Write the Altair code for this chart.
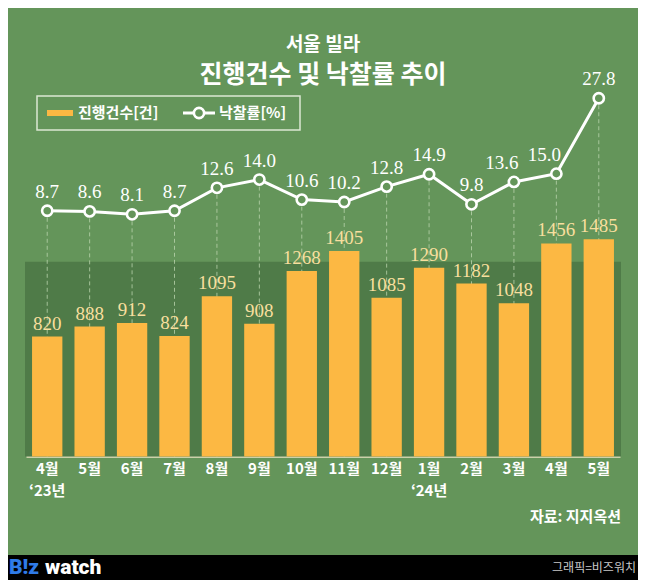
import altair as alt
import pandas as pd

# ---- data ----
months = ["4월", "5월", "6월", "7월", "8월", "9월", "10월", "11월", "12월", "1월", "2월", "3월", "4월", "5월"]
years = ["‘23년", "", "", "", "", "", "", "", "", "‘24년", "", "", "", ""]
counts = [820, 888, 912, 824, 1095, 908, 1268, 1405, 1085, 1290, 1182, 1048, 1456, 1485]
rates = [8.7, 8.6, 8.1, 8.7, 12.6, 14.0, 10.6, 10.2, 12.8, 14.9, 9.8, 13.6, 15.0, 27.8]

keys = [f"{i:02d}|{m}|{y}" for i, (m, y) in enumerate(zip(months, years))]
df = pd.DataFrame({"key": keys, "count": counts, "rate": rates})

BG = "#64955a"
BAND = "#4f7b48"
BAR = "#fcb843"
BAR_LABEL = "#f8df9e"
KFONT = "Noto Sans CJK KR"
SERIF = "Liberation Serif"

W, H = 594, 366.5
BAR_DOMAIN = [0, 2505]
RATE_DOMAIN = [-33.0, 29.2]

one = pd.DataFrame({"a": [0]})

x_enc = alt.X(
    "key:N", sort=None,
    scale=alt.Scale(paddingInner=0.285, paddingOuter=0.1425),
    axis=alt.Axis(
        title=None, ticks=False, grid=False,
        domain=True, domainColor="#efe6c6", domainWidth=1.5,
        labelExpr="slice(split(datum.value, '|'), 1)",
        labelAngle=0, labelColor="white", labelFont=KFONT, labelFontSize=15,
        labelFontWeight="bold", labelPadding=5, labelLineHeight=22,
        labelBaseline="top",
    ),
)
y_bar = alt.Y("count:Q", scale=alt.Scale(domain=BAR_DOMAIN, nice=False, zero=False), axis=None)
y_rate = alt.Y("rate:Q", scale=alt.Scale(domain=RATE_DOMAIN, nice=False, zero=False), axis=None)

base = alt.Chart(df)

band = alt.Chart(one).mark_rect(color=BAND).encode(
    x=alt.value(-1), x2=alt.value(W + 1), y=alt.value(171.7), y2=alt.value(H)
)

drops = base.mark_rule(color="#b9d3ad", strokeDash=[4, 3], strokeWidth=1, opacity=0.8).encode(
    x=x_enc, y=y_rate, y2=alt.value(H)
)

bars = base.mark_bar(color=BAR).encode(x=x_enc, y=y_bar)

bar_labels = base.mark_text(
    font=SERIF, fontSize=19, color=BAR_LABEL, baseline="alphabetic", dy=-7
).encode(x=x_enc, y=y_bar, text=alt.Text("count:Q", format="d"))

line = base.mark_line(color="white", strokeWidth=3).encode(x=x_enc, y=y_rate)

points = base.mark_point(
    shape="circle", filled=True, fill=BG, stroke="white", strokeWidth=2.6, size=105, opacity=1
).encode(x=x_enc, y=y_rate)

shifted = [keys[11], keys[12]]
rate_labels = base.mark_text(
    font=SERIF, fontSize=19, color="white", baseline="alphabetic", dy=-13
).encode(x=x_enc, y=y_rate, text=alt.Text("rate:Q", format=".1f")).transform_filter(
    ~alt.FieldOneOfPredicate(field="key", oneOf=shifted)
)
rate_labels_left = base.mark_text(
    font=SERIF, fontSize=19, color="white", baseline="alphabetic", dy=-13, dx=-12
).encode(x=x_enc, y=y_rate, text=alt.Text("rate:Q", format=".1f")).transform_filter(
    alt.FieldOneOfPredicate(field="key", oneOf=shifted)
)

# ---- legend (drawn) ----
leg_box = alt.Chart(one).mark_rect(fillOpacity=0, stroke="#dbe8d3", strokeWidth=1.5).encode(
    x=alt.value(11), x2=alt.value(274), y=alt.value(6), y2=alt.value(40)
)
leg_bar = alt.Chart(one).mark_rect(color=BAR).encode(
    x=alt.value(21), x2=alt.value(47), y=alt.value(20), y2=alt.value(26)
)
leg_bar_txt = alt.Chart(one).mark_text(
    text="진행건수[건]", font=KFONT, fontSize=15, fontWeight="bold", color="white",
    align="left", baseline="middle"
).encode(x=alt.value(52), y=alt.value(23))
leg_line = alt.Chart(one).mark_rule(color="white", strokeWidth=3).encode(
    x=alt.value(157), x2=alt.value(189), y=alt.value(23)
)
leg_pt = alt.Chart(one).mark_point(
    shape="circle", filled=True, fill=BG, stroke="white", strokeWidth=2.6, size=105, opacity=1
).encode(x=alt.value(173), y=alt.value(23))
leg_line_txt = alt.Chart(one).mark_text(
    text="낙찰률[%]", font=KFONT, fontSize=15, fontWeight="bold", color="white",
    align="left", baseline="middle"
).encode(x=alt.value(193), y=alt.value(23))

# ---- source and footer ----
source = alt.Chart(one).mark_text(
    text="자료: 지지옥션", font=KFONT, fontSize=15, fontWeight="bold", color="white",
    align="right", baseline="middle"
).encode(x=alt.value(595), y=alt.value(427))

footer = alt.Chart(one).mark_rect(color="black").encode(
    x=alt.value(-18), x2=alt.value(W + 18), y=alt.value(465), y2=alt.value(490)
)
logo_b = alt.Chart(one).mark_text(
    text="B!z", font="Roboto", fontSize=21, fontWeight=900, color="#2f7be8",
    align="left", baseline="middle"
).encode(x=alt.value(-17), y=alt.value(478))
logo_w = alt.Chart(one).mark_text(
    text="watch", font="Roboto", fontSize=21, fontWeight=900, color="white",
    align="left", baseline="middle"
).encode(x=alt.value(19), y=alt.value(478))
credit = alt.Chart(one).mark_text(
    text="그래픽=비즈워치", font=KFONT, fontSize=12, color="#c9c9c9",
    align="right", baseline="middle"
).encode(x=alt.value(610), y=alt.value(478))

chart = alt.layer(
    band, drops, bars, bar_labels, line, points, rate_labels, rate_labels_left,
    leg_box, leg_bar, leg_bar_txt, leg_line, leg_pt, leg_line_txt,
    source, footer, logo_b, logo_w, credit,
).resolve_scale(y="independent").properties(
    width=W, height=H,
    title=alt.Title(
        text="서울 빌라", subtitle="진행건수 및 낙찰률 추이",
        anchor="middle", frame="group", orient="top",
        font=KFONT, fontSize=19, fontWeight="bold", color="white",
        subtitleFont=KFONT, subtitleFontSize=25, subtitleFontWeight="bold",
        subtitleColor="white", subtitlePadding=8, offset=-18,
    ),
    autosize=alt.AutoSizeParams(type="none"),
    padding={"left": 18, "top": 82, "right": 18, "bottom": 123.5},
).configure(background=BG).configure_view(stroke=None)

chart.save("out.html", embed_options={"renderer": "svg", "actions": False})
